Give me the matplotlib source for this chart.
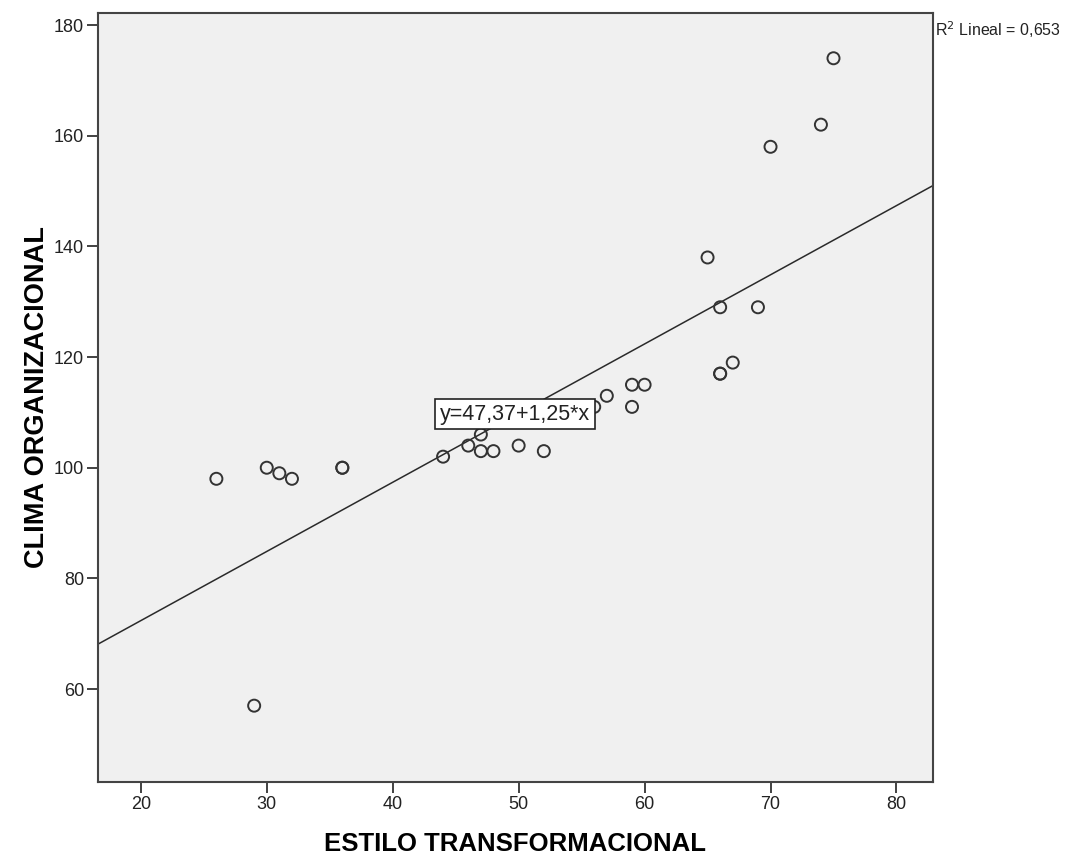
# SPSS-style scatter: clima organizacional vs estilo transformacional
import numpy as np
import matplotlib.pyplot as plt

plt.rcParams['font.family'] = ['Liberation Sans', 'DejaVu Sans']

# %% data
estilo = [26, 29, 30, 31, 32, 36, 36, 44, 46, 47, 47, 48, 50, 52, 56, 57,
          59, 60, 59, 65, 66, 66, 66, 67, 69, 70, 74, 75]
clima = [98, 57, 100, 99, 98, 100, 100, 102, 104, 106, 103, 103, 104, 103, 111, 113,
         115, 115, 111, 138, 129, 117, 117, 119, 129, 158, 162, 174]
intercept = 47.37
slope = 1.25
r2_text = 'R$^2$ Lineal = 0,653'
eq_text = 'y=47,37+1,25*x'
x_ticks = [20, 30, 40, 50, 60, 70, 80]
y_ticks = [60, 80, 100, 120, 140, 160, 180]

# %% plot
fig = plt.figure(figsize=(10.84, 8.59), dpi=100)
ax = fig.add_axes([0.0904, 0.0896, 0.7703, 0.8954])
ax.set_facecolor('#f0f0f0')

xlim = (16.6, 82.9)
ylim = (43.2, 182.2)
xx = np.array(xlim)
ax.plot(xx, intercept + slope * xx, color='#2a2a2a', linewidth=1.1, zorder=2)
ax.scatter(estilo, clima, s=75, facecolors='none', edgecolors='#333333',
           linewidths=1.4, zorder=3)

ax.text(43.75, 109.7, eq_text, fontsize=15.5, va='center', ha='left', color='#222222',
        bbox=dict(boxstyle='square,pad=0.22', facecolor='white', edgecolor='#222222',
                  linewidth=1.2), zorder=4)

ax.set_xlim(*xlim)
ax.set_ylim(*ylim)
ax.set_xticks(x_ticks)
ax.set_yticks(y_ticks)
ax.tick_params(direction='out', length=8, width=1.3, color='#333333',
               labelsize=13, labelcolor='#222222', pad=2)
for s in ax.spines.values():
    s.set_color('#444444')
    s.set_linewidth(1.5)

ax.set_xlabel('ESTILO TRANSFORMACIONAL', fontsize=18.5, fontweight='bold', labelpad=14)
ax.set_ylabel('CLIMA ORGANIZACIONAL', fontsize=19.5, fontweight='bold', labelpad=3)

fig.text(0.8625, 0.965, r2_text, fontsize=11.5, ha='left', va='center', color='#222222')

fig.savefig('out.png', dpi=100)
